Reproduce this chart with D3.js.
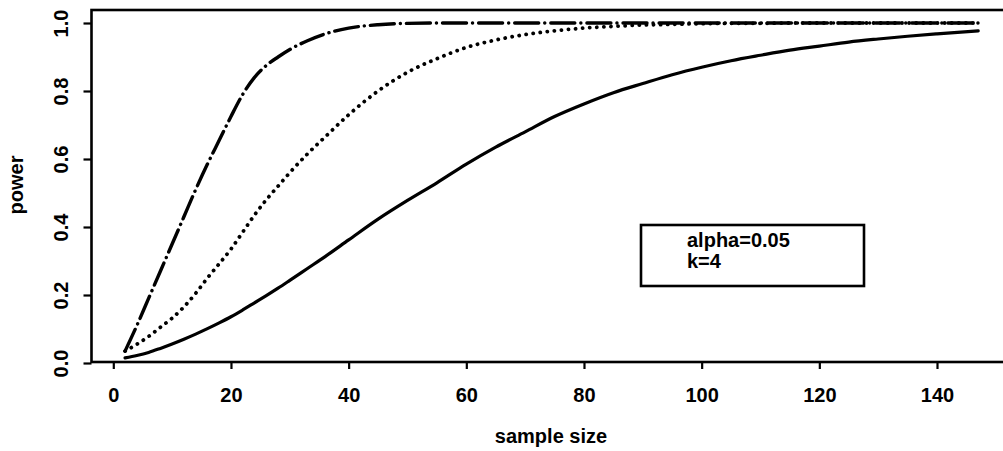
<!DOCTYPE html>
<html>
<head>
<meta charset="utf-8">
<script src="https://cdn.jsdelivr.net/npm/d3@7"></script>
<style>
body { margin: 0; background: #fff; }
text { font-family: "Liberation Sans", Arial, sans-serif; font-weight: bold; fill: #000; }
</style>
</head>
<body>
<svg id="chart" width="1003" height="451"></svg>
<script>
// sample sizes shared by all three curves
const sampleSize = [2, 4, 6, 8, 10, 12, 14, 16, 18, 20, 22, 24, 26, 28, 30, 33, 36, 40, 45, 50,
    55, 60, 65, 70, 75, 80, 85, 90, 95, 100, 105, 110, 115, 120, 125, 130, 135, 140, 147];

// power
const powerSolid = [0.015, 0.022, 0.031, 0.043, 0.056, 0.070, 0.085, 0.101, 0.118, 0.136, 0.156, 0.177, 0.198, 0.220, 0.243, 0.278, 0.313, 0.362, 0.423, 0.478,
    0.530, 0.585, 0.635, 0.680, 0.725, 0.762, 0.795, 0.822, 0.848, 0.870, 0.889, 0.905, 0.920, 0.932, 0.944, 0.953, 0.961, 0.968, 0.977];
const powerDotted = [0.035, 0.055, 0.078, 0.105, 0.132, 0.165, 0.205, 0.250, 0.292, 0.335, 0.385, 0.435, 0.480, 0.520, 0.560, 0.615, 0.665, 0.730, 0.800, 0.855,
    0.895, 0.928, 0.950, 0.966, 0.977, 0.985, 0.990, 0.994, 0.996, 0.998, 0.999, 0.999, 1.0, 1.0, 1.0, 1.0, 1.0, 1.0, 1.0];
const powerDashDot = [0.035, 0.110, 0.190, 0.270, 0.350, 0.430, 0.510, 0.585, 0.655, 0.725, 0.790, 0.840, 0.875, 0.900, 0.922, 0.948, 0.968, 0.985, 0.995, 0.999,
    1.0, 1.0, 1.0, 1.0, 1.0, 1.0, 1.0, 1.0, 1.0, 1.0, 1.0, 1.0, 1.0, 1.0, 1.0, 1.0, 1.0, 1.0, 1.0];

const xTicks = [0, 20, 40, 60, 80, 100, 120, 140];
const yTicks = [0, 0.2, 0.4, 0.6, 0.8, 1.0];
const legendLines = ["alpha=0.05", "k=4"];

let svg = d3.select("#chart");

let x = d3.scaleLinear().domain([0, 140]).range([113.3, 937]);
let y = d3.scaleLinear().domain([0, 1]).range([363, 23]);

// plot frame (right side runs off the page)
svg.append("rect")
    .attr("x", 91.5).attr("y", 10)
    .attr("width", 920).attr("height", 352)
    .attr("fill", "none").attr("stroke", "#000").attr("stroke-width", 2.6);

// x axis
let xAxis = svg.append("g")
    .attr("transform", "translate(0,362)")
    .call(d3.axisBottom(x).tickValues(xTicks).tickSize(7).tickPadding(19).tickFormat(d3.format("d")));
xAxis.select(".domain").remove();
xAxis.selectAll("line").attr("stroke-width", 2.2);
xAxis.selectAll("text").style("font-size", "20px").style("font-family", null);

// y axis, labels turned sideways
let yAxis = svg.append("g")
    .attr("transform", "translate(91.5,0)")
    .call(d3.axisLeft(y).tickValues(yTicks).tickSize(8).tickFormat(d3.format(".1f")));
yAxis.select(".domain").remove();
yAxis.selectAll("line").attr("stroke-width", 2.2);
yAxis.selectAll("text")
    .attr("x", 0).attr("y", -23.5).attr("dy", 0)
    .attr("transform", "rotate(-90)")
    .attr("text-anchor", "middle")
    .style("font-size", "20px").style("font-family", null);

// axis titles
svg.append("text")
    .attr("x", 551).attr("y", 443)
    .attr("text-anchor", "middle")
    .style("font-size", "20px")
    .text("sample size");
svg.append("text")
    .attr("transform", "translate(23,185) rotate(-90)")
    .attr("text-anchor", "middle")
    .style("font-size", "20px")
    .text("power");

// curves
let line = d3.line()
    .x(d => x(d[0]))
    .y(d => y(d[1]))
    .curve(d3.curveMonotoneX);

let curves = [
    {values: powerSolid, dash: null, width: 3.2},
    {values: powerDotted, dash: "0.1,7", width: 3.8},
    {values: powerDashDot, dash: "24,6,0.1,6", width: 3.4}
];

curves.forEach(c => {
    svg.append("path")
        .datum(d3.zip(sampleSize, c.values))
        .attr("d", line)
        .attr("fill", "none")
        .attr("stroke", "#000")
        .attr("stroke-width", c.width)
        .attr("stroke-linecap", "round")
        .attr("stroke-dasharray", c.dash);
});

// legend box
svg.append("rect")
    .attr("x", 641).attr("y", 225)
    .attr("width", 223).attr("height", 61)
    .attr("fill", "#fff").attr("stroke", "#000").attr("stroke-width", 2.6);

svg.selectAll(".legend")
    .data(legendLines)
    .enter().append("text")
    .attr("class", "legend")
    .attr("x", 687)
    .attr("y", (d, i) => 247 + i * 21)
    .style("font-size", "20px")
    .text(d => d);
</script>
</body>
</html>
